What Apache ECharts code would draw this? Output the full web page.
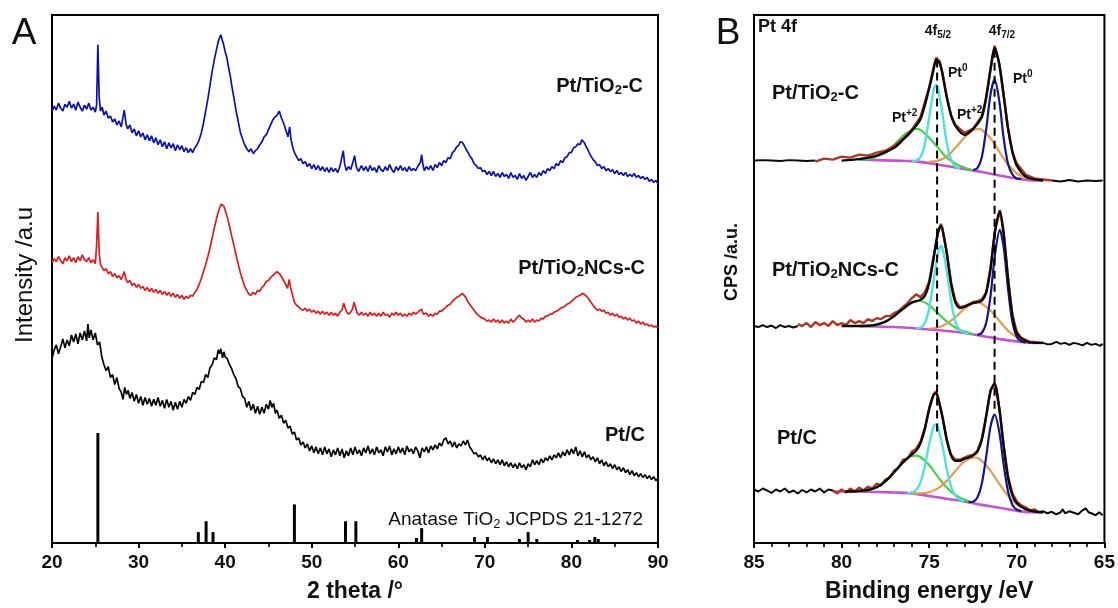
<!DOCTYPE html>
<html>
<head>
<meta charset="utf-8">
<script src="https://cdn.jsdelivr.net/npm/echarts@6/dist/echarts.min.js"></script>
<style>
  html, body { margin: 0; padding: 0; background: #fff; }
  #main { width: 1118px; height: 608px; }
</style>
</head>
<body>
<div id="main"></div>
<script>
// ---- panel A: XRD, [2theta, intensity a.u.] ----
const xrdTiO2C = [[20,436],[20.25,441],[20.5,437],[20.75,444],[21,439],[21.25,436],[21.5,443],[21.75,440],[22,446],[22.25,439],[22.5,443],[22.75,437],[23,445],[23.25,440],[23.5,436],[23.75,442],[24,438],[24.25,444],[24.5,437],[24.75,440],[25,435],[25.15,442],[25.3,503],[25.45,450],[25.6,436],[25.8,440],[26,432],[26.25,436],[26.5,429],[26.75,431],[27,425],[27.25,428],[27.5,422],[27.75,426],[28,420],[28.2,430],[28.35,437],[28.55,423],[28.75,418],[29,422],[29.25,414],[29.5,418],[29.75,411],[30,416],[30.25,410],[30.5,414],[30.75,407],[31,412],[31.25,406],[31.5,411],[31.75,404],[32,409],[32.25,402],[32.5,407],[32.75,400],[33,405],[33.25,398],[33.5,404],[33.75,399],[34,403],[34.25,396],[34.5,402],[34.75,397],[35,401],[35.25,395],[35.5,399],[35.75,394],[36,398],[36.25,394],[36.5,399],[36.75,402],[37,407],[37.25,414],[37.5,424],[37.75,436],[38,448],[38.25,462],[38.5,476],[38.75,488],[39,498],[39.2,506],[39.35,510],[39.5,513],[39.65,508],[39.8,504],[40,496],[40.2,490],[40.4,480],[40.6,471],[40.8,460],[41,450],[41.25,437],[41.5,426],[41.75,415],[42,408],[42.25,402],[42.5,398],[42.75,395],[43,398],[43.25,393],[43.5,396],[43.75,398],[44,402],[44.25,405],[44.5,410],[44.75,412],[45,417],[45.25,422],[45.5,427],[45.75,430],[46,432],[46.25,436],[46.5,429],[46.75,424],[47,417],[47.25,410],[47.45,420],[47.6,408],[47.8,400],[48,394],[48.25,390],[48.5,386],[48.75,388],[49,383],[49.25,385],[49.5,380],[49.75,383],[50,378],[50.25,382],[50.5,377],[50.75,381],[51,376],[51.25,380],[51.5,375],[51.75,379],[52,374],[52.25,379],[52.5,375],[52.75,378],[53,374],[53.25,380],[53.5,390],[53.65,396],[53.8,383],[54,376],[54.25,380],[54.5,377],[54.75,384],[54.95,391],[55.15,380],[55.4,375],[55.75,381],[56,376],[56.25,380],[56.5,375],[56.75,381],[57,376],[57.25,379],[57.5,374],[57.75,381],[58,377],[58.25,375],[58.5,380],[58.75,376],[59,382],[59.25,377],[59.5,374],[59.75,380],[60,376],[60.25,381],[60.5,376],[60.75,379],[61,375],[61.25,380],[61.5,376],[61.75,378],[62,376],[62.3,381],[62.55,384],[62.7,392],[62.85,382],[63,376],[63.25,380],[63.5,377],[63.75,381],[64,376],[64.25,382],[64.5,379],[64.75,384],[65,381],[65.25,386],[65.5,384],[65.75,389],[66,388],[66.25,394],[66.5,396],[66.75,400],[67,402],[67.15,405],[67.3,407],[67.45,404],[67.6,402],[67.8,398],[68,395],[68.25,391],[68.5,388],[68.75,383],[69,381],[69.25,378],[69.5,379],[69.75,375],[70,376],[70.25,372],[70.5,375],[70.75,371],[71,375],[71.25,370],[71.5,373],[71.75,369],[72,374],[72.25,370],[72.5,372],[72.75,368],[73,374],[73.25,369],[73.5,371],[73.75,367],[74,373],[74.25,368],[74.5,371],[74.75,366],[75,370],[75.25,374],[75.5,369],[75.75,372],[76,369],[76.25,374],[76.5,371],[76.75,376],[77,373],[77.25,378],[77.5,376],[77.75,380],[78,378],[78.25,383],[78.5,381],[78.75,386],[79,384],[79.25,389],[79.5,390],[79.75,394],[80,394],[80.25,399],[80.5,400],[80.75,403],[81,402],[81.2,407],[81.35,405],[81.5,404],[81.7,400],[81.9,397],[82.1,393],[82.3,390],[82.5,387],[82.75,385],[83,381],[83.25,382],[83.5,378],[83.75,380],[84,376],[84.25,378],[84.5,375],[84.75,377],[85,373],[85.25,376],[85.5,372],[85.75,374],[86,371],[86.25,374],[86.5,370],[86.75,372],[87,370],[87.25,373],[87.5,369],[87.75,371],[88,368],[88.25,370],[88.5,367],[88.75,369],[89,365],[89.25,367],[89.5,364],[89.75,366],[90,363]];

const xrdTiO2NCs = [[20,283],[20.25,287],[20.5,284],[20.75,289],[21,285],[21.25,282],[21.5,288],[21.75,285],[22,290],[22.25,284],[22.5,288],[22.75,283],[23,289],[23.25,285],[23.5,291],[23.75,286],[24,284],[24.25,288],[24.5,283],[24.75,286],[25,282],[25.15,300],[25.3,334],[25.45,293],[25.6,281],[25.8,278],[26,275],[26.25,277],[26.5,272],[26.75,274],[27,269],[27.25,272],[27.5,268],[27.75,270],[28,266],[28.2,270],[28.35,274],[28.55,266],[28.75,263],[29,265],[29.25,260],[29.5,262],[29.75,258],[30,261],[30.25,257],[30.5,259],[30.75,255],[31,258],[31.25,254],[31.5,257],[31.75,253],[32,256],[32.25,252],[32.5,255],[32.75,251],[33,254],[33.25,250],[33.5,253],[33.75,249],[34,252],[34.25,248],[34.5,251],[34.75,247],[35,250],[35.25,246],[35.5,249],[35.75,247],[36,250],[36.25,249],[36.5,253],[36.75,256],[37,261],[37.25,267],[37.5,274],[37.75,281],[38,289],[38.25,298],[38.5,308],[38.75,318],[39,327],[39.2,334],[39.4,339],[39.55,342],[39.7,341],[39.85,340],[40,336],[40.25,329],[40.5,320],[40.75,310],[41,301],[41.25,291],[41.5,282],[41.75,273],[42,266],[42.25,259],[42.5,255],[42.75,251],[43,250],[43.25,253],[43.5,251],[43.75,255],[44,254],[44.25,258],[44.5,260],[44.75,264],[45,265],[45.25,268],[45.5,270],[45.75,272],[46,274],[46.25,272],[46.5,269],[46.75,265],[47,261],[47.2,257],[47.4,266],[47.55,258],[47.8,250],[48,243],[48.25,240],[48.5,238],[48.75,236],[49,235],[49.25,237],[49.5,234],[49.75,236],[50,233],[50.25,235],[50.5,232],[50.75,234],[51,231],[51.25,234],[51.5,231],[51.75,233],[52,230],[52.25,233],[52.5,230],[52.75,232],[53,229],[53.25,233],[53.5,235],[53.7,242],[53.85,244],[54,234],[54.25,231],[54.5,233],[54.7,236],[54.9,243],[55.05,244],[55.25,232],[55.5,230],[55.75,233],[56,230],[56.25,232],[56.5,229],[56.75,233],[57,230],[57.25,232],[57.5,229],[57.75,232],[58,229],[58.25,233],[58.5,230],[58.75,231],[59,228],[59.25,232],[59.5,230],[59.75,233],[60,230],[60.25,232],[60.5,229],[60.75,231],[61,229],[61.25,232],[61.5,230],[61.75,233],[62,231],[62.4,234],[62.7,236],[62.9,231],[63,230],[63.25,232],[63.5,229],[63.75,231],[64,229],[64.25,232],[64.5,231],[64.75,234],[65,234],[65.25,236],[65.5,238],[65.75,240],[66,241],[66.25,244],[66.5,246],[66.75,248],[67,249],[67.2,251],[67.4,252],[67.6,250],[67.8,248],[68,244],[68.25,241],[68.5,238],[68.75,235],[69,232],[69.25,230],[69.5,228],[69.75,227],[70,226],[70.25,224],[70.5,225],[70.75,223],[71,226],[71.25,223],[71.5,225],[71.75,222],[72,225],[72.25,222],[72.5,224],[72.75,222],[73,226],[73.25,223],[73.5,225],[73.75,228],[74,230],[74.25,227],[74.5,226],[74.75,223],[75,225],[75.25,223],[75.5,226],[75.75,223],[76,225],[76.25,224],[76.5,227],[76.75,226],[77,229],[77.25,229],[77.5,231],[77.75,231],[78,233],[78.25,234],[78.5,235],[78.75,237],[79,238],[79.25,239],[79.5,241],[79.75,242],[80,244],[80.25,246],[80.5,248],[80.75,249],[81,250],[81.25,252],[81.5,251],[81.75,249],[82,246],[82.25,243],[82.5,240],[82.75,237],[83,235],[83.25,236],[83.5,234],[83.75,235],[84,232],[84.25,233],[84.5,230],[84.75,232],[85,229],[85.25,231],[85.5,228],[85.75,229],[86,226],[86.25,228],[86.5,225],[86.75,227],[87,224],[87.25,225],[87.5,222],[87.75,224],[88,221],[88.25,223],[88.5,220],[88.75,221],[89,219],[89.25,220],[89.5,218],[89.75,219],[90,217]];

const xrdPtC = [[20,186],[20.25,195],[20.5,200],[20.75,191],[21,198],[21.25,206],[21.5,197],[21.75,205],[22,199],[22.25,210],[22.5,203],[22.75,211],[23,201],[23.25,212],[23.5,205],[23.75,214],[24,204],[24.15,221],[24.3,207],[24.5,215],[24.75,205],[25,212],[25.25,200],[25.5,203],[25.75,188],[26,180],[26.25,174],[26.5,178],[26.75,167],[27,170],[27.25,160],[27.5,167],[27.75,156],[28,152],[28.2,145],[28.4,157],[28.6,150],[28.8,154],[29,146],[29.25,152],[29.5,143],[29.75,150],[30,141],[30.25,148],[30.5,139],[30.75,147],[31,140],[31.25,146],[31.5,138],[31.75,145],[32,139],[32.25,147],[32.5,138],[32.75,144],[33,136],[33.25,145],[33.5,137],[33.75,143],[34,134],[34.25,142],[34.5,135],[34.75,143],[35,137],[35.25,145],[35.5,141],[35.75,148],[36,144],[36.25,152],[36.5,150],[36.75,157],[37,155],[37.25,163],[37.5,162],[37.75,170],[38,167],[38.25,177],[38.5,180],[38.75,187],[39,185],[39.2,195],[39.35,191],[39.5,196],[39.7,187],[39.85,193],[40,188],[40.25,186],[40.5,180],[40.75,176],[41,170],[41.25,166],[41.5,158],[41.75,156],[42,148],[42.25,146],[42.5,137],[42.75,143],[43,134],[43.25,140],[43.5,131],[43.75,138],[44,130],[44.25,137],[44.5,131],[44.75,140],[45,135],[45.2,144],[45.4,137],[45.6,141],[45.8,131],[46,134],[46.25,126],[46.5,129],[46.75,121],[47,124],[47.25,116],[47.5,118],[47.75,110],[48,112],[48.25,104],[48.5,106],[48.75,99],[49,102],[49.25,96],[49.5,100],[49.75,93],[50,98],[50.25,91],[50.5,97],[50.75,90],[51,96],[51.25,89],[51.5,97],[51.75,90],[52,95],[52.25,87],[52.5,94],[52.75,89],[53,96],[53.25,88],[53.5,95],[53.75,86],[54,93],[54.25,88],[54.5,96],[54.75,89],[55,97],[55.25,90],[55.5,94],[55.75,88],[56,96],[56.25,91],[56.5,98],[56.75,90],[57,95],[57.25,89],[57.5,97],[57.75,91],[58,94],[58.25,88],[58.5,97],[58.75,92],[59,98],[59.25,89],[59.5,95],[59.75,90],[60,97],[60.25,91],[60.5,96],[60.75,89],[61,98],[61.25,92],[61.5,95],[61.75,90],[62,97],[62.25,93],[62.5,86],[62.75,96],[63,92],[63.25,97],[63.5,91],[63.75,98],[64,94],[64.25,99],[64.5,95],[64.75,101],[65,98],[65.25,104],[65.5,106],[65.75,100],[66,103],[66.25,97],[66.5,102],[66.75,96],[67,100],[67.25,98],[67.5,103],[67.75,99],[68,104],[68.25,97],[68.5,94],[68.75,90],[69,91],[69.25,87],[69.5,89],[69.75,84],[70,88],[70.25,83],[70.5,86],[70.75,81],[71,85],[71.25,80],[71.5,84],[71.75,79],[72,84],[72.25,78],[72.5,82],[72.75,77],[73,81],[73.25,76],[73.5,80],[73.75,75],[74,81],[74.25,76],[74.5,79],[74.75,74],[75,80],[75.25,77],[75.5,84],[75.75,79],[76,83],[76.25,79],[76.5,85],[76.75,81],[77,86],[77.25,83],[77.5,88],[77.75,84],[78,89],[78.25,86],[78.5,91],[78.75,86],[79,92],[79.25,88],[79.5,94],[79.75,89],[80,95],[80.25,90],[80.5,97],[80.75,88],[81,93],[81.25,87],[81.5,92],[81.75,86],[82,89],[82.25,84],[82.5,87],[82.75,82],[83,86],[83.25,80],[83.5,84],[83.75,78],[84,82],[84.25,77],[84.5,80],[84.75,75],[85,79],[85.25,74],[85.5,77],[85.75,72],[86,76],[86.25,71],[86.5,74],[86.75,69],[87,73],[87.25,68],[87.5,71],[87.75,67],[88,70],[88.25,66],[88.5,69],[88.75,65],[89,68],[89.25,64],[89.5,67],[89.75,63],[90,65]];

// anatase TiO2 JCPDS 21-1272 reference lines
const stickPos = [25.3, 36.9, 37.8, 38.6, 48.0, 53.9, 55.1, 62.1, 62.7, 68.8, 70.3, 74.0, 75.0, 76.0, 80.7, 82.1, 82.7, 83.1];
const stickInt = [111, 11, 22, 11, 39, 22, 22, 5, 15, 6, 6, 4, 11, 4, 3, 3, 6, 4];

// ---- panel B: Pt 4f XPS, [binding energy eV, CPS a.u.] ----
// Pt/TiO2-C
const topRawLeft = [[85,386],[84.5,386.5],[84,386],[83.5,385.5],[83,386.5],[82.5,386],[82,385.5],[81.5,386]];
const topRaw = [[81.5,385],[81,388],[80.5,387],[80,390],[79.5,389],[79,392],[78.5,391],[78,394],[77.5,396],[77,401],[76.5,408],[76,417],[75.5,430],[75,460],[74.75,480],[74.6,490],[74.4,486],[74.25,475],[74,451],[73.75,431],[73.5,422],[73,414],[72.5,418],[72,431],[71.75,449],[71.5,479],[71.27,502],[71,484],[70.75,451],[70.5,419],[70.25,394],[70,383],[69.5,372],[69,368],[68.5,367],[68,366]];
const topRawRight = [[68,366],[67.5,365],[67,366.5],[66.5,365],[66,366],[65.5,365.5],[65.1,366]];
const topFit = [[80,386],[79,387.5],[78,391],[77,399],[76.5,407],[76,416],[75.5,428],[75,459],[74.75,478],[74.6,488],[74.4,484],[74.25,474],[74,450],[73.75,432],[73.5,421],[73,412],[72.5,418],[72,430],[71.75,450],[71.5,478],[71.27,500],[71,483],[70.75,452],[70.5,418],[70.25,395],[70,381],[69.5,370],[69,367],[68.5,366]];
const topBg = [[79,387],[78,386.5],[77,386],[76,385.5],[75,383.5],[74,380.5],[73,377.5],[72,374.5],[71,371],[70,368],[69,366],[68.5,366]];
const topPt0a = [[76,385.5],[75.75,386],[75.5,389.5],[75.25,403],[75,429.5],[74.75,457],[74.6,462.5],[74.5,459],[74.25,434.5],[74,403.5],[73.75,387],[73.5,380],[73.25,378.5]];
const topPt2a = [[79,387],[78.5,387.5],[78,390],[77.5,394],[77,402],[76.5,411],[76,417],[75.74,418],[75.5,417],[75,409],[74.5,399],[74,389],[73.5,383],[73,379],[72.5,376]];
const topPt0b = [[72.5,376.5],[72.25,378.5],[72,389.5],[71.75,417.5],[71.5,453],[71.27,468],[71,446],[70.75,408.5],[70.5,382.5],[70.25,372],[70,368],[69.75,367.5]];
const topPt2b = [[75,385],[74.5,386],[74,390],[73.5,399],[73,409],[72.5,417],[72.17,418],[72,417],[71.5,408.5],[71,395],[70.5,382],[70,373],[69.5,369],[69,366]];

// Pt/TiO2NCs-C
const midRawLeft = [[85,219],[84.75,218],[84.5,220],[84.25,218],[84,219.5],[83.75,217],[83.5,220],[83.25,218],[83,219],[82.75,217.5],[82.5,219]];
const midRaw = [[82.5,221],[82.25,219],[82,222],[81.75,218],[81.5,223],[81.25,220],[81,222],[80.75,219],[80.5,224],[80.25,220],[80,222],[79.75,220],[79.5,225],[79.25,222],[79,224],[78.75,222],[78.5,226],[78.25,224],[78,227],[77.75,226],[77.5,229],[77.25,229],[77,232],[76.75,234],[76.5,238],[76.25,242],[76,247],[75.75,251],[75.5,248],[75.25,253],[75,264],[74.75,289],[74.5,314],[74.33,322],[74.25,318],[74,294],[73.75,263],[73.5,244],[73.25,238],[73,239],[72.75,241],[72.5,243],[72.25,244],[72,246],[71.75,253],[71.5,278],[71.25,315],[70.97,336],[70.75,313],[70.5,267],[70.25,230],[70,213],[69.75,207],[69.5,205],[69.25,203],[69,203],[68.75,202],[68.5,202]];
const midRawRight = [[68.5,202],[68.25,200.5],[68,201],[67.75,203],[67.5,201],[67.25,202],[67,200],[66.75,202],[66.5,201],[66.25,199.5],[66,202],[65.75,200],[65.5,201],[65.25,199],[65.1,201]];
const midFit = [[80,219],[79,219],[78.5,219.3],[78,220.5],[77.5,223.4],[77,229],[76.5,236.3],[76,242.6],[75.5,245.6],[75.25,249.5],[75,262.5],[74.75,287.4],[74.5,313],[74.33,320],[74.25,317],[74,292.4],[73.75,261.5],[73.5,242.6],[73.25,237.3],[73,238.3],[72.5,242.3],[72.25,243.1],[72,244.6],[71.75,252.5],[71.5,276.7],[71.25,313.8],[70.97,335],[70.75,312],[70.5,266.1],[70.25,229.2],[70,212],[69.5,203.9],[69,202],[68.5,202]];
const midBg = [[79,219],[78,218.5],[77,218],[76,217],[75,215.5],[74,214],[73,212],[72,209],[71,206],[70,203.5],[69,202],[68.5,202]];
const midPt0a = [[75.75,217],[75.5,217.5],[75.25,222],[75,237],[74.75,264.5],[74.5,292.5],[74.33,299.5],[74.25,298],[74,275],[73.75,244],[73.5,223],[73.25,215],[73,212.5],[72.75,211]];
const midPt2a = [[79,219],[78.5,219.3],[78,220.5],[77.5,223.4],[77,229],[76.5,236.3],[76,242.6],[75.55,244.3],[75,240],[74.5,231.7],[74,223.7],[73.5,217.3],[73,213.6],[72.5,210.9]];
const midPt0b = [[72.25,210.1],[72,212],[71.75,222],[71.5,249.5],[71.25,290.7],[70.97,316],[70.75,298.4],[70.5,256.4],[70.25,222.8],[70,207.9],[69.75,203.7],[69.5,202.5]];
const midPt2b = [[75,216.5],[74.5,217.5],[74,221.5],[73.5,228],[73,236.3],[72.5,241.9],[72.17,242.5],[72,241.6],[71.5,234.7],[71,224.3],[70.5,214.4],[70,207.6],[69.5,203.9],[69,202]];

// Pt/C
const botRawLeft = [[85,54],[84.75,52],[84.5,55],[84.25,53],[84,50.5],[83.75,54],[83.5,52],[83.25,55],[83,51],[82.75,53],[82.5,50],[82.25,53.5],[82,51],[81.75,54],[81.5,52],[81.25,55],[81,51],[80.75,54],[80.5,53]];
const botRaw = [[80.5,53],[80.25,50],[80,54],[79.75,51],[79.5,55],[79.25,52],[79,56],[78.75,53],[78.5,57],[78.25,55],[78,60],[77.75,58],[77.5,64],[77.25,66],[77,73],[76.75,76],[76.5,84],[76.25,85],[76,92],[75.75,95],[75.5,102],[75.25,116],[75,136],[74.75,150],[74.62,153],[74.5,147],[74.25,128],[74,104],[73.75,89],[73.5,84],[73.25,84],[73,86],[72.75,88],[72.5,89],[72.25,93],[72,105],[71.75,128],[71.5,154],[71.27,162],[71,136],[70.75,98],[70.5,67],[70.25,50],[70,42],[69.75,38],[69.5,36],[69.25,33],[69,34],[68.75,31]];
const botRawRight = [[68.75,31],[68.5,32],[68.25,30],[68,31.5],[67.75,29],[67.5,31],[67.38,34],[67.25,30],[67,32],[66.75,30.5],[66.5,29],[66.25,33],[66.07,35],[65.9,31],[65.75,30],[65.5,28],[65.3,31],[65.1,28]];
const botFit = [[79.8,52],[79,52.5],[78.5,53.5],[78,56.3],[77.5,62.3],[77,71.4],[76.5,81.4],[76,89.3],[75.75,93],[75.5,100.7],[75.25,115.2],[75,135.3],[74.75,149.6],[74.62,151],[74.5,146.9],[74.25,127.7],[74,104.4],[73.75,88.2],[73.5,83],[73.25,83],[73,85],[72.75,86.3],[72.5,88.3],[72.25,92.2],[72,104.2],[71.75,127.8],[71.5,153.5],[71.27,160.5],[71,136.1],[70.75,97.6],[70.5,65.7],[70.25,48],[70,40.1],[69.5,34.1],[69,31.8],[68.5,31]];
const botBg = [[80.5,52],[79,52],[78,51.5],[77,51],[76,50],[75,47.5],[74,44.7],[73,42],[72,38.5],[71,35.6],[70,32.5],[69,31],[68.5,31]];
const botPt0a = [[76.25,50.2],[76,51],[75.75,53.2],[75.5,61.2],[75.25,77.5],[75,100.1],[74.75,117.3],[74.62,119.7],[74.5,117],[74.25,98.8],[74,75.1],[73.75,57],[73.5,47.5],[73.25,43.6],[73,42]];
const botPt2a = [[79,52.5],[78.5,53.5],[78,56.3],[77.5,62.3],[77,71.4],[76.5,81.3],[76,87.9],[75.74,88.2],[75.5,86.8],[75,78.7],[74.5,66.7],[74,56],[73.5,48.3],[73,43.8],[72.5,40.7]];
const botPt0b = [[72.75,41.2],[72.5,41.6],[72.25,45.9],[72,59.8],[71.75,87],[71.5,117.7],[71.27,129.7],[71,111.9],[70.75,79],[70.5,52],[70.25,38.4],[70,33.6],[69.75,32.2]];
const botPt2b = [[76,50.4],[75.5,50.1],[75,51.5],[74.5,55.2],[74,62.7],[73.5,72.7],[73,82.2],[72.36,86.3],[72,82.9],[71.5,72.8],[71,59.8],[70.5,47.7],[70,39],[69.5,34.1],[69,31.8]];

// dashed guides at Pt0 4f5/2 and 4f7/2
const dashPos = [74.55, 71.27];
const dashTop = [488, 498];
const dashBottom = [111, 131];

const FONT = '"Liberation Sans", Arial, Helvetica, sans-serif';

const chart = echarts.init(document.getElementById('main'), null, { renderer: 'canvas' });

function ln(axis, data, color, width, extra) {
    return Object.assign({
        type: 'line',
        xAxisIndex: axis,
        yAxisIndex: axis,
        data: data,
        symbol: 'none',
        showSymbol: false,
        silent: true,
        animation: false,
        lineStyle: { color: color, width: width },
        itemStyle: { color: color }
    }, extra || {});
}

const C_RAW = '#b3341f', C_FIT = '#0a0a0a', C_BG = '#c651d6', C_CY = '#52e2dc',
      C_GR = '#46d446', C_BL = '#14148f', C_OR = '#e49c4c';

function stack(rawL, raw, rawR, fit, bg, p0a, p2a, p0b, p2b) {
    return [
        ln(1, bg, C_BG, 2.6, { smooth: 0.4 }),
        ln(1, p2a, C_GR, 2.2, { smooth: 0.4 }),
        ln(1, p2b, C_OR, 2.2, { smooth: 0.4 }),
        ln(1, p0a, C_CY, 2.4, { smooth: 0.3 }),
        ln(1, p0b, C_BL, 2.2, { smooth: 0.3 }),
        ln(1, raw, C_RAW, 2.4),
        ln(1, fit, C_FIT, 2.4, { smooth: 0.3 }),
        ln(1, rawL, C_FIT, 2),
        ln(1, rawR, C_FIT, 2)
    ];
}

const series = [
    ln(0, xrdTiO2C, '#0b10b4', 1.7),
    ln(0, xrdTiO2NCs, '#e11b1b', 1.7),
    ln(0, xrdPtC, '#050505', 1.7),
    {
        type: 'bar', xAxisIndex: 0, yAxisIndex: 0, silent: true, animation: false,
        barWidth: 3,
        data: stickPos.map((x, i) => [x, stickInt[i]]),
        itemStyle: { color: '#000' }
    }
].concat(
    stack(topRawLeft, topRaw, topRawRight, topFit, topBg, topPt0a, topPt2a, topPt0b, topPt2b),
    stack(midRawLeft, midRaw, midRawRight, midFit, midBg, midPt0a, midPt2a, midPt0b, midPt2b),
    stack(botRawLeft, botRaw, botRawRight, botFit, botBg, botPt0a, botPt2a, botPt0b, botPt2b),
    dashPos.map((x, i) => ln(1, [[x, dashTop[i]], [x, dashBottom[i]]], '#000', 2,
        { lineStyle: { color: '#000', width: 2, type: [8, 5] }, z: 5 }))
);

function xAxisCfg(grid, min, max, inverse, minorSplit, name) {
    return {
        gridIndex: grid, type: 'value', min: min, max: max, interval: 5 * (grid === 0 ? 2 : 1),
        inverse: inverse,
        axisLine: { show: true, lineStyle: { color: '#000', width: 2 } },
        axisTick: { show: true, length: 5, lineStyle: { color: '#000', width: 2 } },
        minorTick: { show: true, splitNumber: minorSplit, length: 4, lineStyle: { color: '#000', width: 1.6 } },
        splitLine: { show: false },
        minorSplitLine: { show: false },
        axisLabel: { fontFamily: FONT, fontSize: 19, fontWeight: 'bold', color: '#111', margin: 10 },
        name: name, nameLocation: 'middle', nameGap: 37,
        nameTextStyle: { fontFamily: FONT, fontSize: 23, fontWeight: 'bold', color: '#111' }
    };
}

function yAxisCfg(grid) {
    return {
        gridIndex: grid, type: 'value', min: 0, max: 533,
        axisLine: { show: true, lineStyle: { color: '#000', width: 2 } },
        axisTick: { show: false }, axisLabel: { show: false }, splitLine: { show: false }
    };
}

// text helpers
const big = (size, weight) => ({ fontFamily: FONT, fontSize: size, fontWeight: weight || 'bold', color: '#111' });
function txt(x, y, text, rich, align, extra) {
    return Object.assign({
        type: 'text', x: x, y: y, silent: true, z: 100,
        style: { text: text, rich: rich, align: align || 'left', verticalAlign: 'middle', fill: '#111' }
    }, extra || {});
}
const richA = { a: big(20), s: Object.assign(big(13), { padding: [8, 0, 0, 0] }) };
const richN = { a: big(19, 'normal'), s: Object.assign(big(13, 'normal'), { padding: [8, 0, 0, 0] }) };
const richPt = { a: big(14), u: Object.assign(big(10), { padding: [0, 0, 9, 0] }) };
const richF = { a: big(14), d: Object.assign(big(10), { padding: [9, 0, 0, 0] }) };
const richL = { a: big(37, 'normal') };

const graphics = [
    txt(24, 34, '{a|A}', richL, 'center'),
    txt(728, 34, '{a|B}', richL, 'center'),
    txt(643, 86, '{a|Pt/TiO}{s|2}{a|-C}', richA, 'right'),
    txt(645, 268, '{a|Pt/TiO}{s|2}{a|NCs-C}', richA, 'right'),
    txt(645, 435, '{a|Pt/C}', richA, 'right'),
    txt(643, 520, '{a|Anatase TiO}{s|2}{a| JCPDS 21-1272}', richN, 'right'),
    txt(25, 275, '{a|Intensity /a.u}', { a: big(24, 'normal') }, 'center', { rotation: Math.PI / 2 }),
    txt(732, 262, '{a|CPS /a.u.}', { a: big(18) }, 'center', { rotation: Math.PI / 2 }),
    txt(758, 27, '{a|Pt 4f}', { a: big(18) }, 'left'),
    txt(938, 31, '{a|4f}{d|5/2}', richF, 'center'),
    txt(1002, 31, '{a|4f}{d|7/2}', richF, 'center'),
    txt(948, 73, '{a|Pt}{u|0}', richPt, 'left'),
    txt(1013, 79, '{a|Pt}{u|0}', richPt, 'left'),
    txt(892, 118, '{a|Pt}{u|+2}', richPt, 'left'),
    txt(957, 115, '{a|Pt}{u|+2}', richPt, 'left'),
    txt(772, 93, '{a|Pt/TiO}{s|2}{a|-C}', richA, 'left'),
    txt(772, 270, '{a|Pt/TiO}{s|2}{a|NCs-C}', richA, 'left'),
    txt(777, 438, '{a|Pt/C}', richA, 'left')
];

chart.setOption({
    animation: false,
    backgroundColor: '#fff',
    grid: [
        { left: 52, top: 15, width: 606, height: 533, show: true, borderColor: '#000', borderWidth: 2, backgroundColor: 'transparent' },
        { left: 754, top: 15, width: 355, height: 533, show: true, borderColor: '#000', borderWidth: 2, backgroundColor: 'transparent' }
    ],
    xAxis: [
        xAxisCfg(0, 20, 90, false, 2, '2 theta /°'),
        xAxisCfg(1, 65, 85, true, 5, 'Binding energy /eV')
    ],
    yAxis: [yAxisCfg(0), yAxisCfg(1)],
    series: series,
    graphic: graphics
});
</script>
</body>
</html>
